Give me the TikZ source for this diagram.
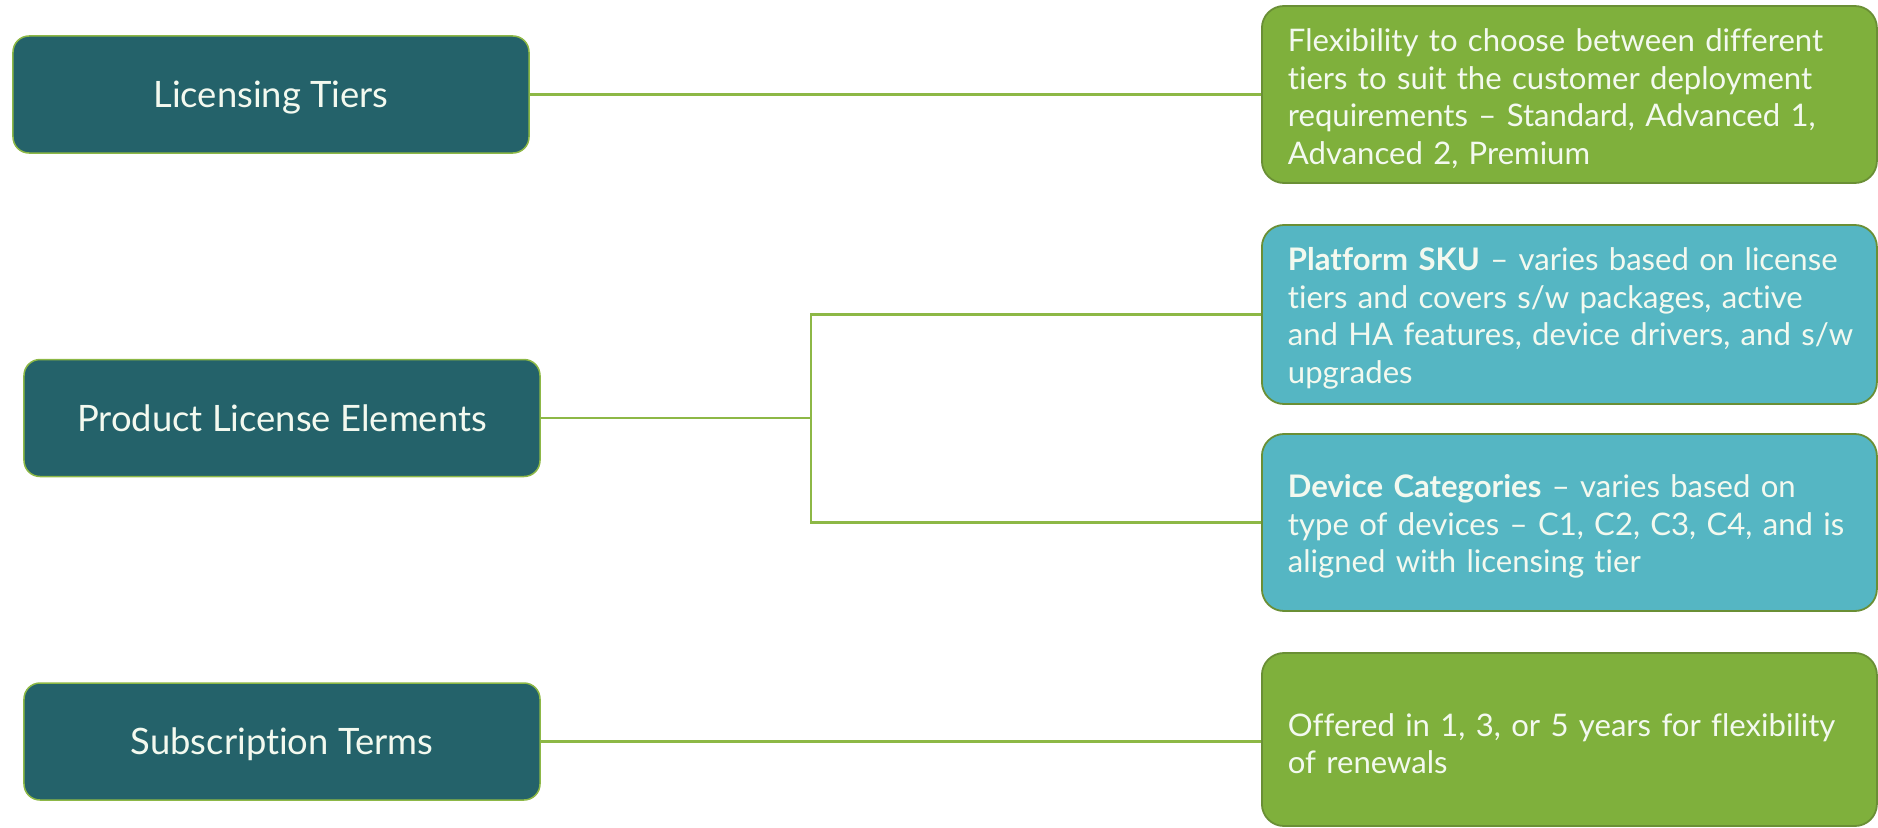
\documentclass[tikz,border=0pt]{standalone}
\usepackage{fontspec}
\setmainfont{Lato}[Ligatures={NoCommon}]
\definecolor{hubfill}{HTML}{24626A}
\definecolor{greenfill}{HTML}{7FB03C}
\definecolor{tealfill}{HTML}{55B6C3}
\definecolor{linegreen}{HTML}{8DB846}
\definecolor{edgegreen}{HTML}{6A8F35}
\definecolor{txt}{HTML}{F3F9EF}
% one unbreakable text line inside a description box
\newcommand{\tline}[1]{\mbox{#1}}
\begin{document}
\begin{tikzpicture}[x=1bp,y=-1bp,
  hub/.style={draw=linegreen, line width=1.5bp, fill=hubfill, rounded corners=16bp,
    minimum width=516bp, minimum height=117bp, inner sep=0bp, text=txt,
    text height=28bp, text depth=2bp,
    font=\fontsize{36.5}{40}\selectfont},
  info/.style={draw=edgegreen, line width=1.8bp, rounded corners=22bp, anchor=west,
    text width=563bp, inner xsep=26bp, inner ysep=0bp,
    align=left, text=txt, font=\fontsize{31.2}{37.8}\selectfont,
    execute at begin node={\rule{0pt}{31bp}}},
  greenbox/.style={info, fill=greenfill},
  tealbox/.style={info, fill=tealfill},
  link/.style={draw=linegreen, line width=2.5bp}]
\useasboundingbox (0,0) rectangle (1878,828);

% left-hand category boxes
\node[hub] (lt)  at (271,94.5)  {Licensing Tiers};
\node[hub] (ple) at (282,418)   {Product License Elements};
\node[hub] (st)  at (282,741.5) {Subscription Terms};

% right-hand description boxes
\node[greenbox, minimum height=177bp] (g1) at (1261,94.5)
  {\tline{Flexibility to choose between different}\\\tline{tiers to suit the customer deployment}\\\tline{requirements -- Standard, Advanced 1,}\\\tline{Advanced 2, Premium}};
\node[tealbox, minimum height=179bp] (t1) at (1261,314.5)
  {\tline{\textbf{Platform SKU} -- varies based on license}\\\tline{tiers and covers s/w packages, active}\\\tline{and HA features, device drivers, and s/w}\\\tline{upgrades}};
\node[tealbox, minimum height=177bp] (t2) at (1261,522.5)
  {\tline{\textbf{Device Categories} -- varies based on}\\\tline{type of devices -- C1, C2, C3, C4, and is}\\\tline{aligned with licensing tier}};
\node[greenbox, minimum height=173bp] (g2) at (1261,739.5)
  {\tline{Offered in 1, 3, or 5 years for flexibility}\\\tline{of renewals}};

% connectors
\coordinate (jx) at (811,418);
\draw[link] (lt.east) -- (lt.east -| g1.west);
\draw[link] (ple.east) -- (jx);
\draw[link] (t1.west) -| (jx) |- (t2.west);
\draw[link] (st.east) -- (st.east -| g2.west);
\end{tikzpicture}
\end{document}
